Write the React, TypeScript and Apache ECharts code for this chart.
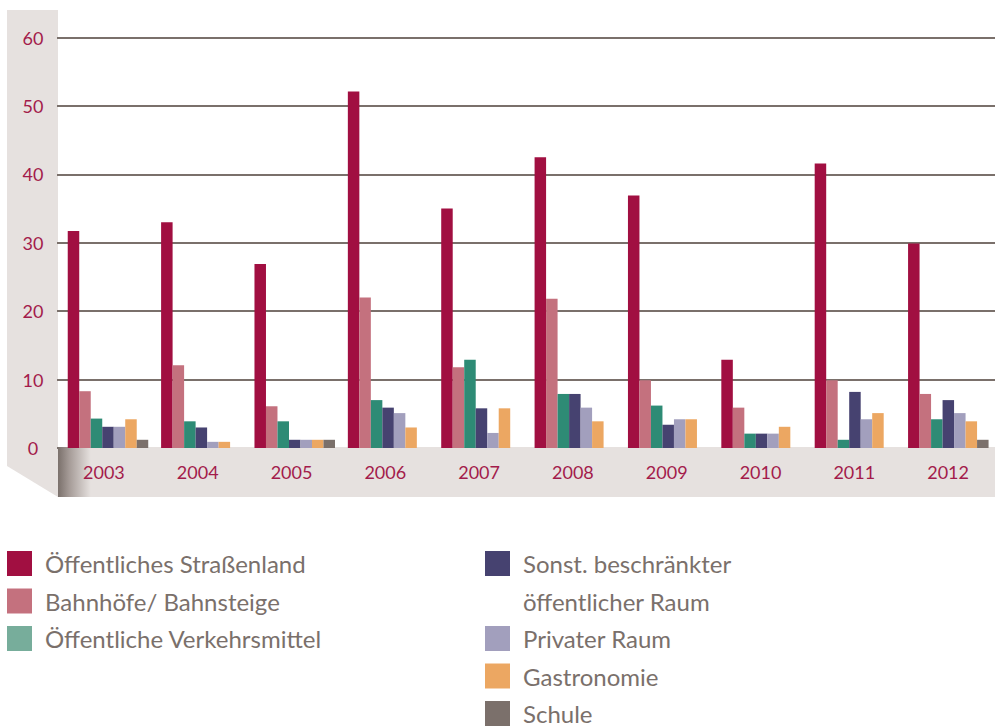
import React, { useEffect, useRef } from "react";
import * as echarts from "echarts";

const categories = ["2003", "2004", "2005", "2006", "2007", "2008", "2009", "2010", "2011", "2012"];
const yTicks = [0, 10, 20, 30, 40, 50, 60];

const strassenland = [31.7, 33.0, 26.9, 52.1, 35.0, 42.5, 36.9, 12.9, 41.6, 29.9];
const bahnhoefe = [8.3, 12.1, 6.1, 22.0, 11.8, 21.8, 9.9, 5.9, 9.9, 7.9];
const verkehrsmittel = [4.3, 3.9, 3.9, 7.0, 12.9, 7.9, 6.2, 2.1, 1.2, 4.2];
const sonst = [3.1, 3.0, 1.2, 5.9, 5.8, 7.9, 3.4, 2.1, 8.2, 7.0];
const privat = [3.1, 0.9, 1.2, 5.1, 2.2, 5.9, 4.2, 2.1, 4.2, 5.1];
const gastro = [4.2, 0.9, 1.2, 3.0, 5.8, 3.9, 4.2, 3.1, 5.1, 3.9];
const schule = [1.2, 0, 1.2, 0, 0, 0, 0, 0, 0, 1.2];

const seriesNames = [
  "Öffentliches Straßenland",
  "Bahnhöfe/ Bahnsteige",
  "Öffentliche Verkehrsmittel",
  "Sonst. beschränkter\nöffentlicher Raum",
  "Privater Raum",
  "Gastronomie",
  "Schule",
];
const seriesData = [strassenland, bahnhoefe, verkehrsmittel, sonst, privat, gastro, schule];
const seriesColors = ["#a10f41", "#c4717e", "#2e8b75", "#464270", "#a29fbd", "#eca762", "#7b706b"];

const FONT = "Lato";
const GREY = "#7a706b";
const CRIMSON = "#a31b4b";
const PANEL = "#e6e1df";

export default function App() {
  const ref = useRef<HTMLDivElement>(null);
  useEffect(() => {
    if (!ref.current) return;
    const chart = echarts.init(ref.current, null, { renderer: "svg" });
    const zeroY = 448;
    const topY = 37.5;
    const legendText = {
      color: GREY,
      fontSize: 24,
      fontFamily: FONT,
      lineHeight: 25,
      padding: [0, 0, 0, 8],
    };
    const option: any = {
      animation: false,
      backgroundColor: "#ffffff",
      grid: [
        { left: 61.3, width: 942, top: topY, bottom: 727 - zeroY },
        { left: 57, width: 947, top: topY, bottom: 727 - zeroY },
      ],
      xAxis: [
        {
          type: "category",
          gridIndex: 0,
          data: categories,
          axisLine: { show: false },
          axisTick: { show: false },
          axisLabel: { show: false },
        },
        {
          type: "category",
          gridIndex: 1,
          data: categories,
          z: 5,
          axisLine: { show: false },
          axisTick: { show: false },
          axisLabel: {
            color: CRIMSON,
            fontSize: 18,
            fontFamily: FONT,
            lineHeight: 18,
            margin: 15,
          },
        },
      ],
      yAxis: [
        {
          type: "value",
          gridIndex: 0,
          min: yTicks[0],
          max: yTicks[yTicks.length - 1],
          interval: 10,
          axisLine: { show: false },
          axisTick: { show: false },
          axisLabel: { show: false },
          splitLine: { show: false },
        },
        {
          type: "value",
          gridIndex: 1,
          min: yTicks[0],
          max: yTicks[yTicks.length - 1],
          interval: 10,
          axisLine: { show: false },
          axisTick: { show: false },
          axisLabel: {
            color: CRIMSON,
            fontSize: 18,
            fontFamily: FONT,
            align: "center",
            margin: 24,
          },
          splitLine: { show: true, lineStyle: { color: GREY, width: 2 } },
        },
      ],
      legend: [
        {
          orient: "vertical",
          left: 7,
          top: 551,
          padding: 0,
          itemWidth: 25,
          itemHeight: 25,
          itemGap: 12.5,
          selectedMode: false,
          icon: "rect",
          textStyle: legendText,
          data: [
            { name: seriesNames[0] },
            { name: seriesNames[1] },
            { name: seriesNames[2], itemStyle: { color: "#77ad9b" } },
          ],
        },
        {
          orient: "vertical",
          left: 485,
          top: 507.25,
          padding: 0,
          itemWidth: 25,
          itemHeight: 25,
          selectedMode: false,
          icon: "rect",
          formatter: (name: string) => "\n" + name,
          textStyle: { ...legendText, lineHeight: 37.5 },
          data: [{ name: seriesNames[3] }],
        },
        {
          orient: "vertical",
          left: 485,
          top: 626,
          padding: 0,
          itemWidth: 25,
          itemHeight: 25,
          itemGap: 12.5,
          selectedMode: false,
          icon: "rect",
          textStyle: legendText,
          data: [{ name: seriesNames[4] }, { name: seriesNames[5] }, { name: seriesNames[6] }],
        },
      ],
      graphic: [
        {
          type: "polygon",
          z: -1,
          silent: true,
          shape: { points: [[7, 10], [58, 10], [58, 497], [7, 466]] },
          style: { fill: PANEL },
        },
        {
          type: "rect",
          z: 1,
          silent: true,
          shape: { x: 58, y: 447, width: 937, height: 50 },
          style: {
            fill: new echarts.graphic.LinearGradient(0, 0, 1, 0, [
              { offset: 0, color: "#7a706b" },
              { offset: 0.012, color: "#a59b97" },
              { offset: 0.035, color: PANEL },
              { offset: 1, color: PANEL },
            ]),
          },
        },
      ],
      series: seriesNames.map((name, i) => ({
        name,
        type: "bar",
        xAxisIndex: 0,
        yAxisIndex: 0,
        z: 2,
        barWidth: 11.5,
        barGap: "0%",
        itemStyle: { color: seriesColors[i] },
        data: seriesData[i],
      })),
    };
    chart.setOption(option);
    return () => chart.dispose();
  }, []);
  return (
    <div
      ref={ref}
      style={{ position: "absolute", left: 0, top: 0, width: 995, height: 727 }}
    />
  );
}
